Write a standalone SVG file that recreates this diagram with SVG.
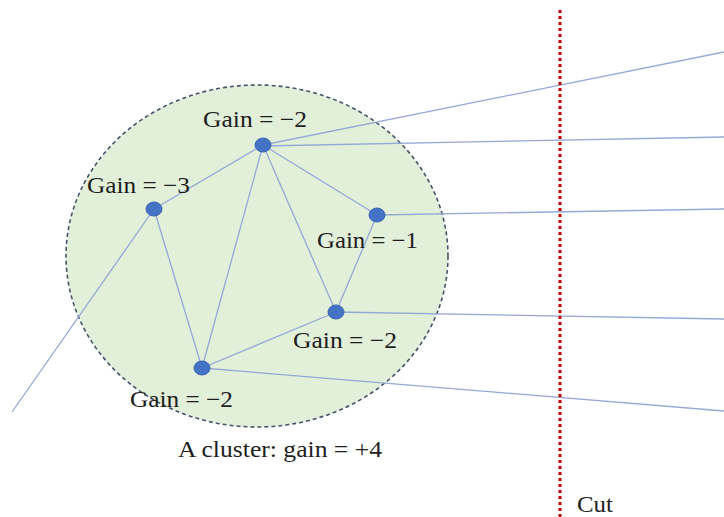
<svg xmlns="http://www.w3.org/2000/svg" width="724" height="517" viewBox="0 0 724 517">
<style>
.lbl{font-family:"Liberation Serif","Times New Roman",serif;font-size:23px;fill:#1e1e1e}
.edge{stroke:#94a9d6;stroke-width:1.3;fill:none}
.node{fill:#4472c4;stroke:#3a64b0;stroke-width:1}
</style>
<rect width="724" height="517" fill="#ffffff"/>
<g id="cluster">
<ellipse cx="257" cy="256" rx="191" ry="171" fill="#e2efd9" stroke="#44546a" stroke-width="1.6" stroke-dasharray="4 3"/>
</g>
<g id="connectors">
<line class="edge" x1="263" y1="145" x2="154" y2="209"/>
<line class="edge" x1="263" y1="145" x2="202" y2="368"/>
<line class="edge" x1="263" y1="145" x2="336" y2="312"/>
<line class="edge" x1="263" y1="145" x2="377" y2="215"/>
<line class="edge" x1="154" y1="209" x2="202" y2="368"/>
<line class="edge" x1="154" y1="209" x2="12" y2="412"/>
<line class="edge" x1="377" y1="215" x2="336" y2="312"/>
<line class="edge" x1="336" y1="312" x2="202" y2="368"/>
<line class="edge" x1="263" y1="145" x2="724" y2="52"/>
<line class="edge" x1="263" y1="146" x2="724" y2="137"/>
<line class="edge" x1="377" y1="215" x2="724" y2="209"/>
<line class="edge" x1="336" y1="312" x2="724" y2="319"/>
<line class="edge" x1="202" y1="368" x2="724" y2="411"/>
</g>
<g id="cut">
<line x1="560" y1="10" x2="560" y2="517" stroke="#c00000" stroke-width="3" stroke-dasharray="3 3"/>
<text class="lbl" x="577" y="512" textLength="36" lengthAdjust="spacingAndGlyphs">Cut</text>
</g>
<g id="node-top">
<ellipse class="node" cx="263" cy="145" rx="8" ry="7"/>
<text class="lbl" x="203" y="127" textLength="104" lengthAdjust="spacingAndGlyphs">Gain = −2</text>
</g>
<g id="node-left">
<ellipse class="node" cx="154" cy="209" rx="8" ry="7"/>
<text class="lbl" x="87" y="193" textLength="103" lengthAdjust="spacingAndGlyphs">Gain = −3</text>
</g>
<g id="node-right">
<ellipse class="node" cx="377" cy="215" rx="8" ry="7"/>
<text class="lbl" x="317" y="248" textLength="101" lengthAdjust="spacingAndGlyphs">Gain = −1</text>
</g>
<g id="node-mid">
<ellipse class="node" cx="336" cy="312" rx="8" ry="7"/>
<text class="lbl" x="293" y="348" textLength="104" lengthAdjust="spacingAndGlyphs">Gain = −2</text>
</g>
<g id="node-bottom">
<ellipse class="node" cx="202" cy="368" rx="8" ry="7"/>
<text class="lbl" x="130" y="407" textLength="103" lengthAdjust="spacingAndGlyphs">Gain = −2</text>
</g>
<g id="caption">
<text class="lbl" x="178" y="457" textLength="204" lengthAdjust="spacingAndGlyphs">A cluster: gain = +4</text>
</g>
</svg>
